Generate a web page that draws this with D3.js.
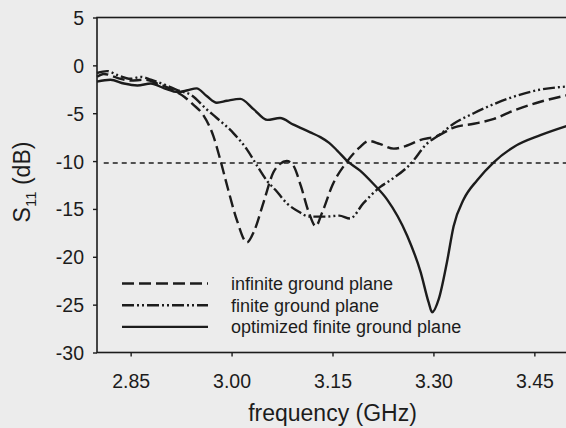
<!DOCTYPE html>
<html>
<head>
<meta charset="utf-8">
<script src="https://cdn.jsdelivr.net/npm/d3@7"></script>
<style>
  body { margin: 0; background: #ececec; }
  svg { display: block; font-family: "Liberation Sans", Arial, sans-serif; }
</style>
</head>
<body>
<div id="vis"></div>
<script>
// frequency (GHz) / S11 (dB)
const freqInfinite = [2.80, 2.81, 2.83, 2.85, 2.87, 2.89, 2.91, 2.93, 2.943, 2.958, 2.973, 2.983, 2.995, 3.008, 3.023, 3.033, 3.048, 3.062, 3.072, 3.082, 3.092, 3.103, 3.115, 3.125, 3.135, 3.15, 3.17, 3.19, 3.204, 3.22, 3.241, 3.26, 3.28, 3.305, 3.33, 3.36, 3.39, 3.42, 3.459, 3.50]
const s11Infinite = [-1.2, -0.9, -1.3, -1.6, -1.5, -1.9, -2.5, -3.3, -4.1, -5.2, -7.4, -9.8, -13.0, -16.2, -18.5, -17.4, -14.2, -11.2, -10.3, -10.0, -10.5, -12.6, -15.4, -16.8, -15.3, -12.5, -10.2, -8.6, -7.9, -8.2, -8.7, -8.4, -7.8, -7.4, -6.5, -6.1, -5.6, -4.7, -3.8, -3.1]

const freqFinite = [2.80, 2.815, 2.83, 2.85, 2.865, 2.88, 2.90, 2.92, 2.94, 2.963, 2.978, 3.003, 3.023, 3.038, 3.053, 3.065, 3.082, 3.10, 3.115, 3.14, 3.16, 3.176, 3.196, 3.221, 3.236, 3.266, 3.29, 3.31, 3.33, 3.36, 3.41, 3.454, 3.50]
const s11Finite = [-0.8, -0.6, -1.0, -1.4, -1.2, -1.5, -2.0, -2.6, -3.1, -4.6, -5.5, -7.1, -8.8, -10.5, -12.1, -13.0, -14.4, -15.3, -15.8, -15.8, -15.7, -16.0, -14.4, -12.7, -12.0, -10.3, -8.2, -7.2, -6.1, -5.0, -3.5, -2.6, -2.2]

const freqOptimized = [2.80, 2.82, 2.84, 2.86, 2.88, 2.90, 2.92, 2.935, 2.948, 2.963, 2.978, 2.993, 3.013, 3.033, 3.053, 3.072, 3.092, 3.117, 3.132, 3.145, 3.157, 3.172, 3.191, 3.211, 3.231, 3.261, 3.281, 3.293, 3.298, 3.308, 3.320, 3.330, 3.345, 3.365, 3.39, 3.42, 3.459, 3.50]
const s11Optimized = [-1.7, -1.5, -1.9, -2.1, -1.9, -2.4, -2.8, -2.6, -2.4, -3.2, -3.9, -3.7, -3.5, -4.6, -5.7, -5.5, -6.2, -7.0, -7.5, -8.1, -8.9, -10.0, -11.0, -12.4, -14.0, -17.8, -21.6, -24.8, -25.8, -24.4, -20.6, -16.8, -14.0, -12.0, -10.1, -8.5, -7.3, -6.3]

const seriesNames = ['infinite ground plane', 'finite ground plane', 'optimized finite ground plane']
const xTicks = [2.85, 3.00, 3.15, 3.30, 3.45]
const yTicks = [5, 0, -5, -10, -15, -20, -25, -30]
const threshold = -10.2

const width = 566
const height = 428
const margin = { left: 97, right: -2, top: 17.5, bottom: 75.5 }

const svg = d3.select('#vis').append('svg')
  .attr('width', width)
  .attr('height', height)

const x = d3.scaleLinear()
  .domain([2.80, 3.50])
  .range([margin.left, width - margin.right])

const y = d3.scaleLinear()
  .domain([5, -30])
  .range([margin.top, height - margin.bottom])

const ink = '#1c1c1c'

// frame
svg.append('rect')
  .attr('x', x(2.80))
  .attr('y', y(5))
  .attr('width', x(3.50) - x(2.80))
  .attr('height', y(-30) - y(5))
  .attr('fill', 'none')
  .attr('stroke', ink)
  .attr('stroke-width', 1.6)

// axes (hyphen minus like the original)
const xAxis = svg.append('g')
  .attr('transform', `translate(0,${y(-30)})`)
  .call(d3.axisBottom(x).tickValues(xTicks).tickFormat(d3.format('.2f')).tickSize(4).tickPadding(18))
const yAxis = svg.append('g')
  .attr('transform', `translate(${x(2.80)},0)`)
  .call(d3.axisLeft(y).tickValues(yTicks).tickFormat(d => String(d)).tickSize(4).tickPadding(9))

for (const ax of [xAxis, yAxis]) {
  ax.select('.domain').remove()
  ax.selectAll('line').attr('stroke', ink).attr('stroke-width', 1.4)
  ax.selectAll('text')
    .attr('fill', ink)
    .style('font-size', '19.5px')
    .style('font-family', '"Liberation Sans", Arial, sans-serif')
}
yAxis.selectAll('text').attr('dy', '0.36em')

// -10 dB reference
svg.append('line')
  .attr('x1', x(2.81))
  .attr('x2', x(3.50))
  .attr('y1', y(threshold))
  .attr('y2', y(threshold))
  .attr('stroke', ink)
  .attr('stroke-width', 1.6)
  .attr('stroke-dasharray', '5,4')

// curves
const styles = [
  { dash: '12,5', width: 2.4 },
  { dash: '12,3,2,3,2,3', width: 2.4 },
  { dash: null, width: 2.4 }
]
const series = [
  freqInfinite.map((f, i) => [f, s11Infinite[i]]),
  freqFinite.map((f, i) => [f, s11Finite[i]]),
  freqOptimized.map((f, i) => [f, s11Optimized[i]])
]

const line = d3.line()
  .x(d => x(d[0]))
  .y(d => y(d[1]))
  .curve(d3.curveMonotoneX)

series.forEach((data, i) => {
  svg.append('path')
    .datum(data)
    .attr('d', line)
    .attr('fill', 'none')
    .attr('stroke', ink)
    .attr('stroke-width', styles[i].width)
    .attr('stroke-dasharray', styles[i].dash)
    .attr('stroke-linejoin', 'round')
})

// legend
const legend = svg.append('g').attr('class', 'legend')
seriesNames.forEach((name, i) => {
  const ly = 283.5 + i * 21.7
  legend.append('line')
    .attr('x1', 122)
    .attr('x2', 208)
    .attr('y1', ly)
    .attr('y2', ly)
    .attr('stroke', ink)
    .attr('stroke-width', 2.4)
    .attr('stroke-dasharray', styles[i].dash)
  legend.append('text')
    .attr('x', 231)
    .attr('y', ly)
    .attr('dy', '0.35em')
    .attr('fill', ink)
    .style('font-size', '18px')
    .text(name)
})

// axis titles
svg.append('text')
  .attr('x', (x(2.80) + x(3.50)) / 2)
  .attr('y', 421)
  .attr('text-anchor', 'middle')
  .attr('fill', ink)
  .style('font-size', '23px')
  .text('frequency (GHz)')

const yTitle = svg.append('text')
  .attr('transform', 'translate(30,182) rotate(-90)')
  .attr('text-anchor', 'middle')
  .attr('fill', ink)
  .style('font-size', '23px')
yTitle.append('tspan').text('S')
yTitle.append('tspan').attr('dy', 6).style('font-size', '15px').text('11')
yTitle.append('tspan').attr('dy', -6).text(' (dB)')
</script>
</body>
</html>
